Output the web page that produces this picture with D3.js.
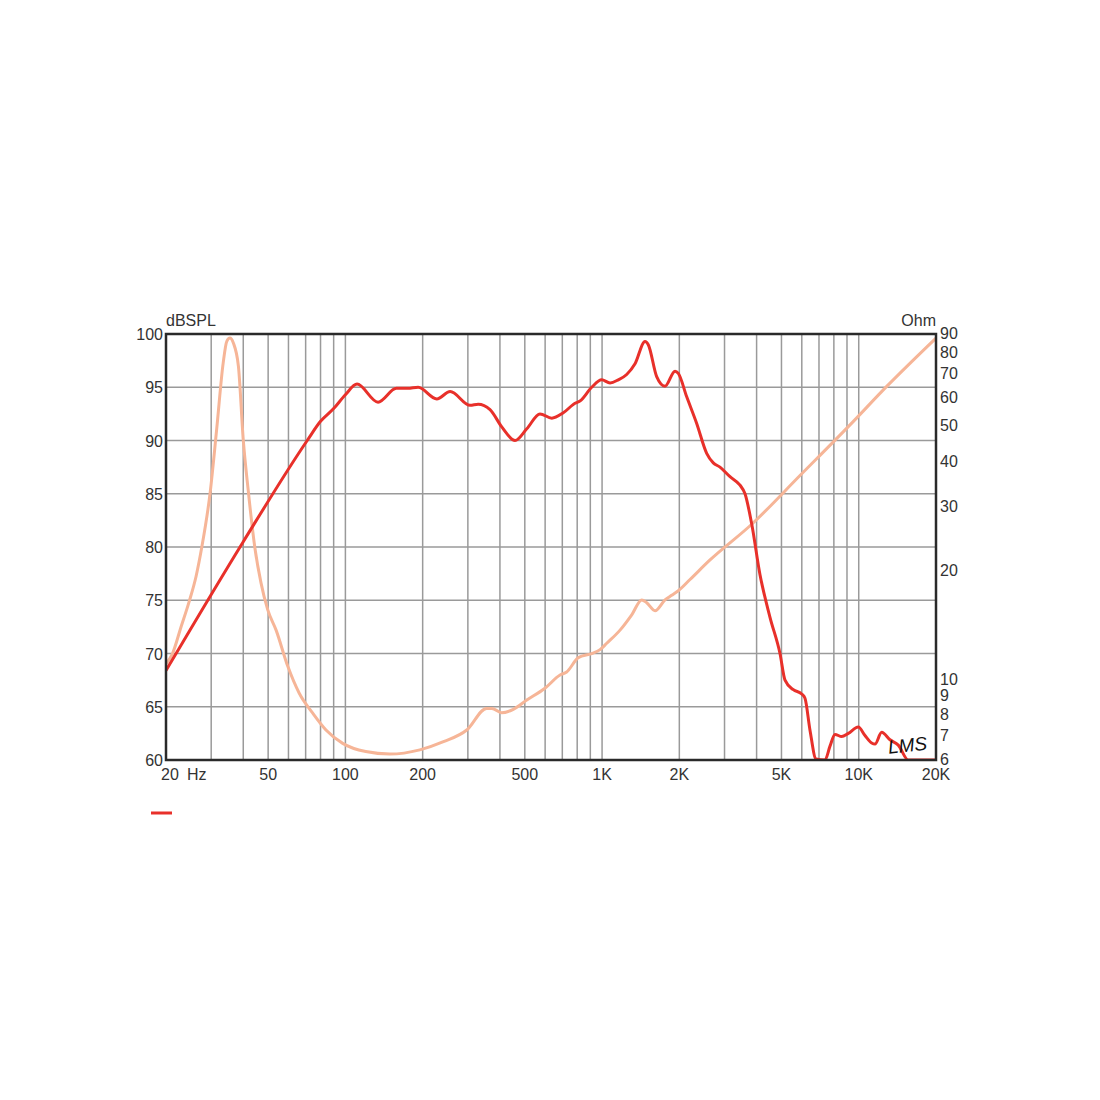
<!DOCTYPE html>
<html>
<head>
<meta charset="utf-8">
<title>SPL / impedance</title>
<script src="https://d3js.org/d3.v7.min.js"></script>
<style>
  body { margin: 0; background: #fff; }
  text { font-family: "Liberation Sans", Arial, sans-serif; fill: #333; }
</style>
</head>
<body>
<div id="chart"></div>
<script>
// frequency response (dB SPL)
const splFreq = [20, 40, 71, 80, 90, 100, 111, 134, 158, 175, 192, 227, 256, 306, 329, 366, 406, 458, 509,
  573, 637, 706, 785, 820, 911, 997, 1074, 1157, 1247, 1344, 1470, 1514, 1632, 1759, 1924, 1982, 2137, 2337,
  2556, 2712, 2880, 3151, 3447, 3605, 3826, 4124, 4511, 4934, 5161, 5560, 5994, 6174, 6458, 6815, 7388, 7727,
  8082, 8582, 9106, 9962, 10578, 11232, 11570, 12286, 13238, 14258, 15596, 20000];
const splDb = [68.4, 80.5, 90.0, 91.8, 93.0, 94.3, 95.3, 93.6, 94.9, 94.9, 95.0, 93.9, 94.6, 93.3, 93.4,
  92.9, 91.3, 90.0, 91.1, 92.5, 92.1, 92.6, 93.5, 93.7, 95.0, 95.7, 95.4, 95.7, 96.2, 97.2, 99.3, 99.0, 96.0,
  95.1, 96.5, 96.3, 94.1, 91.6, 88.8, 87.9, 87.5, 86.6, 85.8, 85.0, 82.2, 77.4, 73.4, 70.0, 67.5, 66.6, 66.2,
  65.8, 62.8, 60.1, 60.0, 61.3, 62.4, 62.2, 62.5, 63.1, 62.3, 61.6, 61.5, 62.6, 61.9, 61.4, 60.0, 60.0];

// impedance (Ohm)
const impFreq = [20, 21.2, 22.9, 24.6, 26.2, 27.6, 29.7, 31.5, 33.4, 34.5, 35.5, 36.6, 38.3, 40.0, 41.8, 44.4,
  46.9, 49.8, 53.7, 59.6, 66.1, 74.6, 84.0, 97.6, 120, 149, 195, 241, 297, 355, 372, 406, 451, 509, 599, 686,
  728, 808, 911, 982, 1043, 1175, 1305, 1428, 1493, 1608, 1759, 1868, 1982, 2201, 2634, 3839, 5904, 9247,
  12853, 20000];
const impOhm = [11.05, 11.8, 14.0, 16.4, 19.3, 23.3, 32.7, 49, 74.8, 85.9, 87.7, 85.0, 73.3, 45.9, 33.4, 23.1,
  18.5, 15.6, 13.7, 10.9, 9.17, 8.08, 7.26, 6.67, 6.33, 6.23, 6.40, 6.74, 7.26, 8.33, 8.33, 8.1, 8.28, 8.78,
  9.47, 10.3, 10.5, 11.5, 11.8, 12.1, 12.6, 13.7, 15.1, 16.6, 16.3, 15.5, 16.6, 17.1, 17.6, 18.9, 21.4, 26.9,
  36.6, 50.5, 64.5, 87.7];

const dbTicks = [60, 65, 70, 75, 80, 85, 90, 95, 100];
const ohmTicks = [6, 7, 8, 9, 10, 20, 30, 40, 50, 60, 70, 80, 90];
const freqTicks = [50, 100, 200, 500, 1000, 2000, 5000, 10000, 20000];
const freqTickText = ["50", "100", "200", "500", "1K", "2K", "5K", "10K", "20K"];

const W = 1100, H = 1100;
const plot = { left: 166, right: 936, top: 334, bottom: 760 };

const svg = d3.select("#chart").append("svg")
  .attr("width", W).attr("height", H);

const x = d3.scaleLog().domain([20, 20000]).range([plot.left, plot.right]);
const yDb = d3.scaleLinear().domain([60, 100]).range([plot.bottom, plot.top]);
const yOhm = d3.scaleLog().domain([6, 90]).range([plot.bottom, plot.top]);

// grid: 1..9 per decade
const gridF = [];
[10, 100, 1000, 10000].forEach(d => {
  for (let k = 1; k <= 9; k++) {
    const f = d * k;
    if (f > 20 && f < 20000) gridF.push(f);
  }
});

const grid = svg.append("g").attr("stroke", "#9a9a9a").attr("stroke-width", 1.5);
grid.selectAll("line.v").data(gridF).join("line")
  .attr("class", "v")
  .attr("x1", d => x(d)).attr("x2", d => x(d))
  .attr("y1", plot.top).attr("y2", plot.bottom);
grid.selectAll("line.h").data(dbTicks.slice(1, -1)).join("line")
  .attr("class", "h")
  .attr("x1", plot.left).attr("x2", plot.right)
  .attr("y1", d => yDb(d)).attr("y2", d => yDb(d));

svg.append("clipPath").attr("id", "clip").append("rect")
  .attr("x", plot.left).attr("y", plot.top - 4)
  .attr("width", plot.right - plot.left).attr("height", plot.bottom - plot.top + 4);

const curves = svg.append("g").attr("clip-path", "url(#clip)");

const impLine = d3.line()
  .x(d => x(d[0])).y(d => yOhm(d[1]))
  .curve(d3.curveMonotoneX);
curves.append("path")
  .datum(d3.zip(impFreq, impOhm))
  .attr("fill", "none")
  .attr("stroke", "#f6b597")
  .attr("stroke-width", 3)
  .attr("d", impLine);

const splLine = d3.line()
  .x(d => x(d[0])).y(d => yDb(d[1]))
  .curve(d3.curveMonotoneX);
curves.append("path")
  .datum(d3.zip(splFreq, splDb))
  .attr("fill", "none")
  .attr("stroke", "#e8302a")
  .attr("stroke-width", 3)
  .attr("d", splLine);

// frame
svg.append("rect")
  .attr("x", plot.left).attr("y", plot.top)
  .attr("width", plot.right - plot.left).attr("height", plot.bottom - plot.top)
  .attr("fill", "none").attr("stroke", "#2a2a2a").attr("stroke-width", 2.5);

// left axis labels
svg.append("g").selectAll("text").data(dbTicks).join("text")
  .attr("x", plot.left - 3).attr("y", d => yDb(d) + 6)
  .attr("text-anchor", "end").attr("font-size", 16)
  .text(d => d);
svg.append("text").attr("x", plot.left).attr("y", 326)
  .attr("font-size", 16).text("dBSPL");

// right axis labels
svg.append("g").selectAll("text").data(ohmTicks).join("text")
  .attr("x", plot.right + 4).attr("y", d => yOhm(d) + 5)
  .attr("font-size", 16)
  .text(d => d);
svg.append("text").attr("x", plot.right).attr("y", 326)
  .attr("text-anchor", "end").attr("font-size", 16).text("Ohm");

// bottom labels
svg.append("g").selectAll("text").data(freqTicks).join("text")
  .attr("x", d => x(d)).attr("y", plot.bottom + 20)
  .attr("text-anchor", "middle").attr("font-size", 16)
  .text((d, i) => freqTickText[i]);
svg.append("text").attr("x", x(20) - 5).attr("y", plot.bottom + 20)
  .attr("font-size", 16).text("20");
svg.append("text").attr("x", x(20) + 21).attr("y", plot.bottom + 20)
  .attr("font-size", 16).text("Hz");

// LMS mark
svg.append("text").attr("x", 888).attr("y", 752)
  .attr("font-family", "DejaVu Sans, sans-serif")
  .attr("font-style", "italic").attr("font-size", 19)
  .style("fill", "#111")
  .attr("transform", "rotate(-6 905 745)")
  .text("LMS");

// legend swatch
svg.append("line")
  .attr("x1", 151).attr("x2", 172).attr("y1", 813).attr("y2", 813)
  .attr("stroke", "#e8302a").attr("stroke-width", 3);
</script>
</body>
</html>
